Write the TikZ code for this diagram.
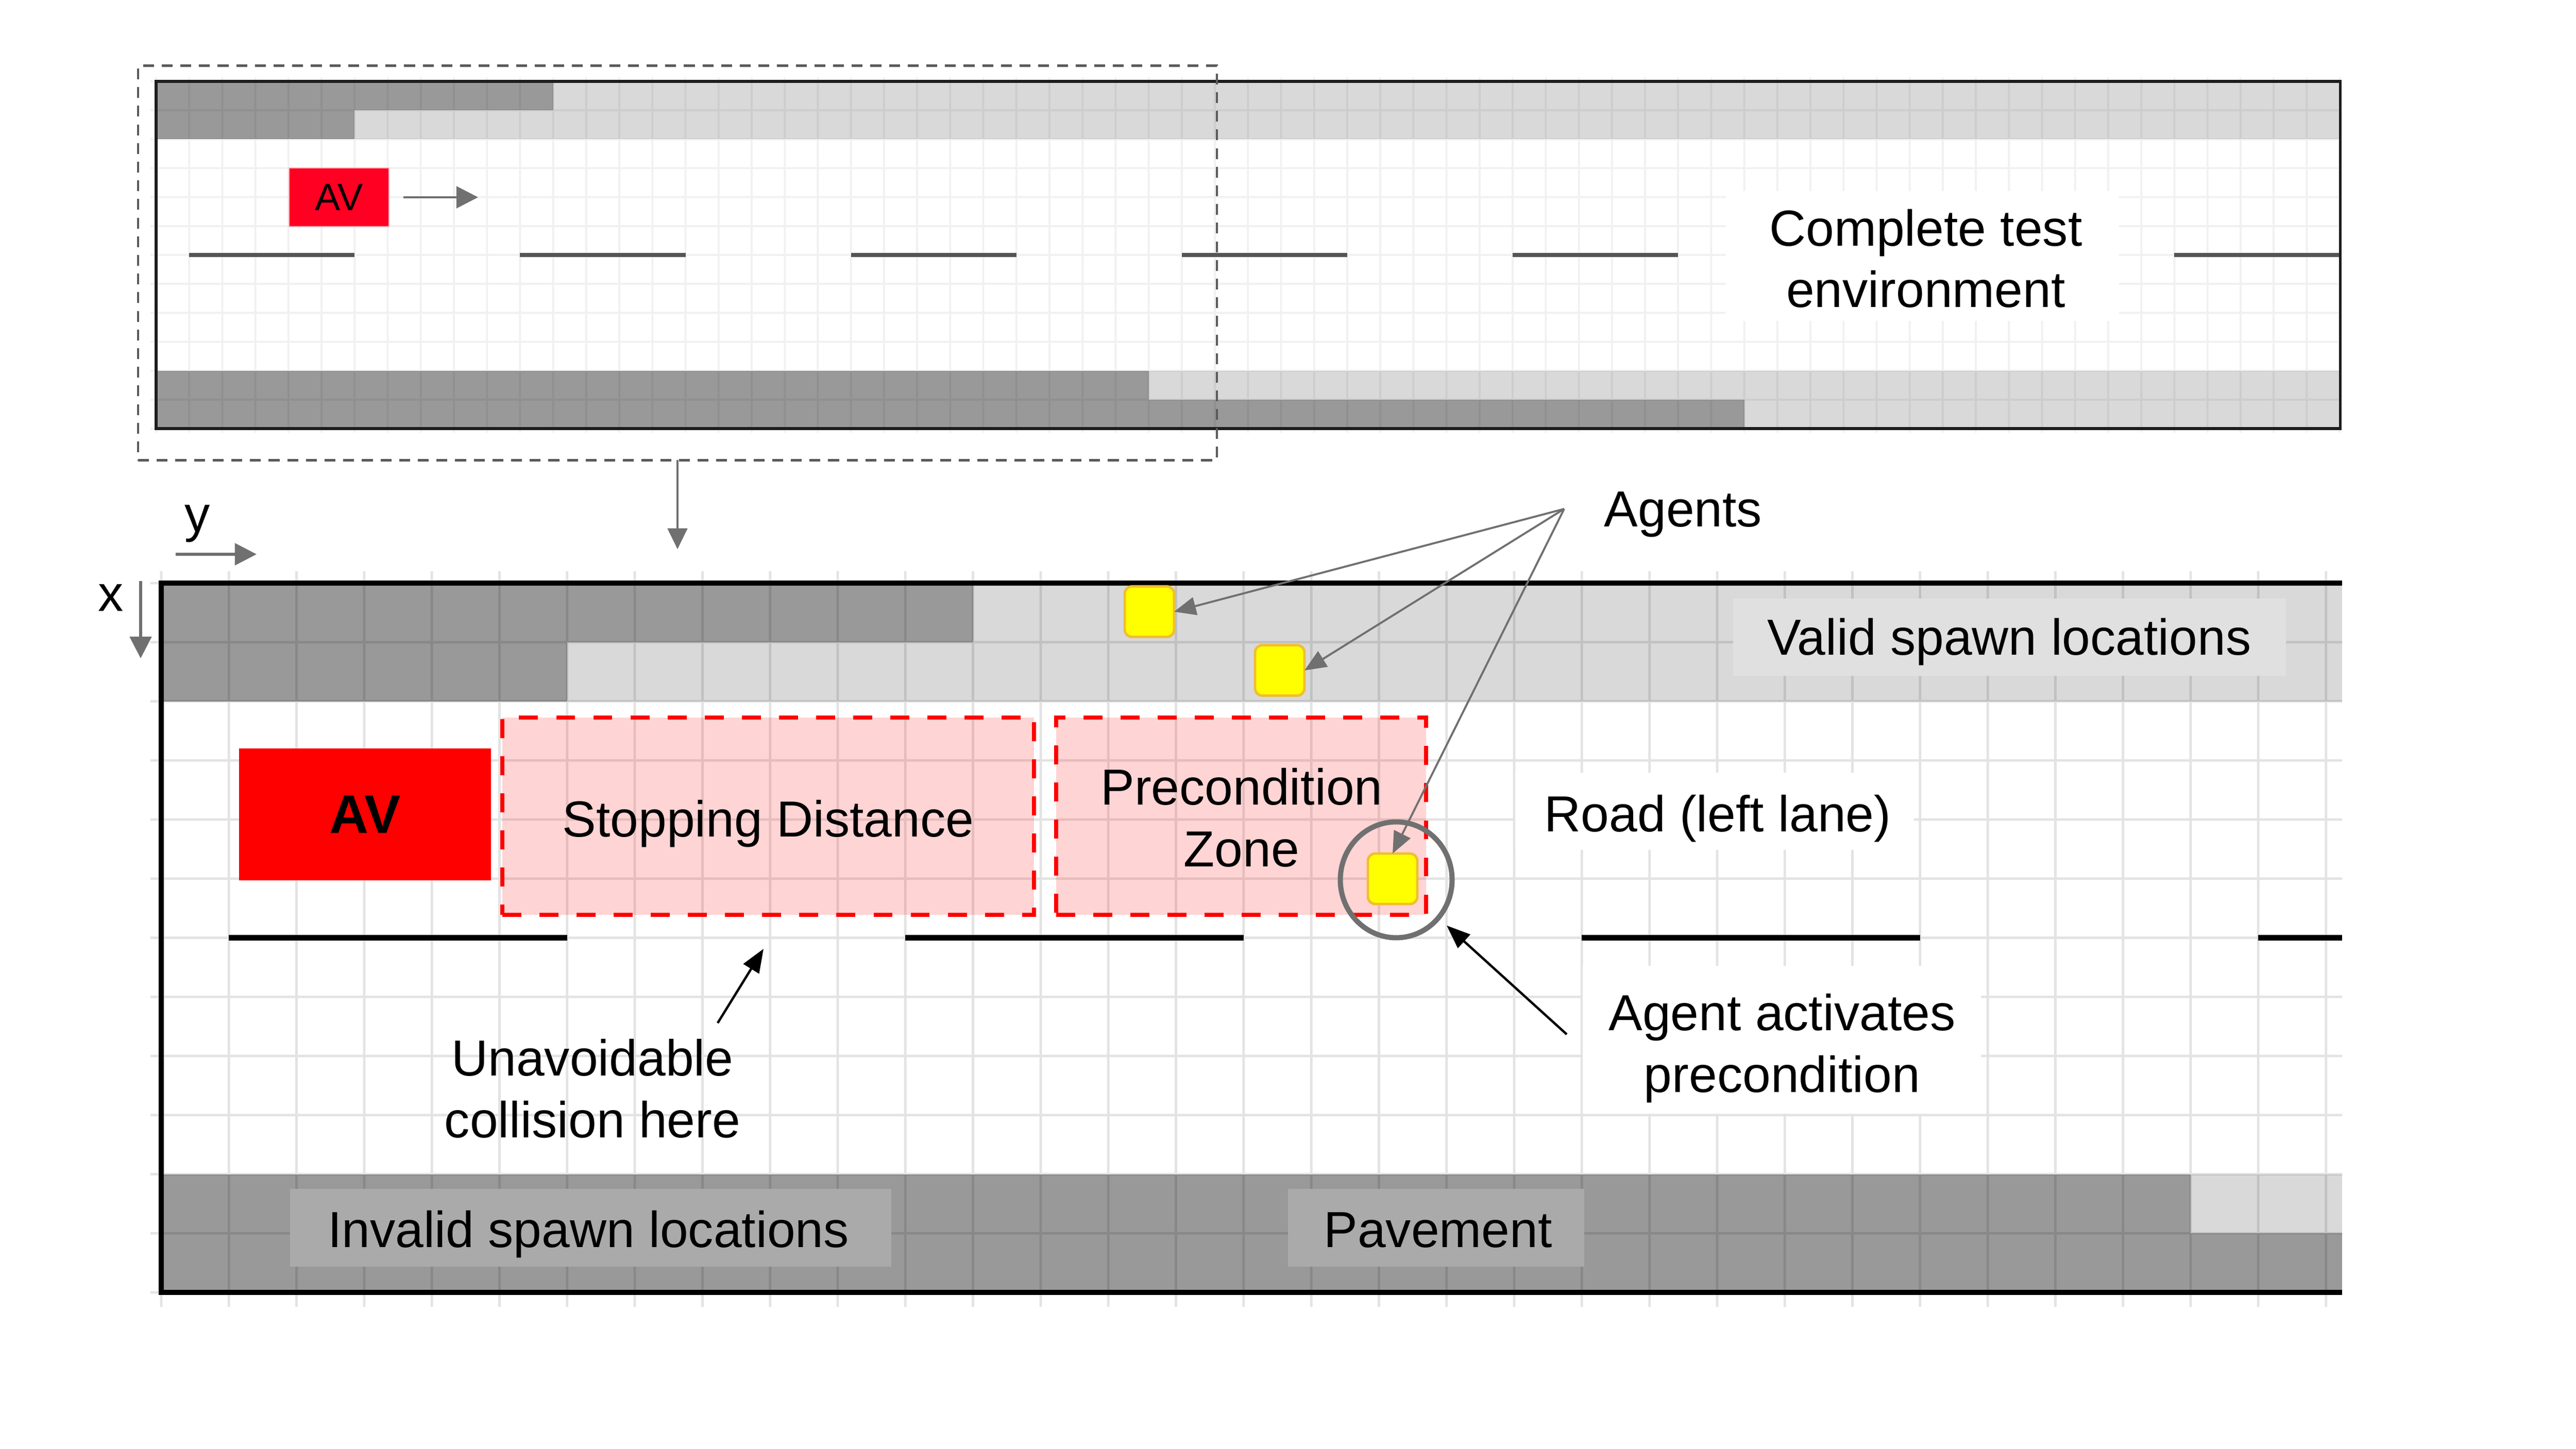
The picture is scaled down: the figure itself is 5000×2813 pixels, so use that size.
\documentclass[tikz,border=0pt]{standalone}
\usepackage{fontspec}
\setmainfont{Liberation Sans}
\usetikzlibrary{arrows.meta,shapes.geometric}
\definecolor{darkcell}{HTML}{999999}
\definecolor{lightcell}{HTML}{D9D9D9}
\definecolor{validbg}{HTML}{E0E0E0}
\definecolor{invalidbg}{HTML}{AAAAAA}
\definecolor{arrowgray}{HTML}{707070}
\definecolor{agentfill}{HTML}{FFFF00}
\definecolor{agentedge}{HTML}{F0BE32}
\definecolor{avred}{HTML}{FF0000}
\definecolor{avsmallred}{HTML}{FF0022}
\definecolor{avsmalledge}{HTML}{F8B4BE}
\definecolor{lanegray}{HTML}{555555}
\definecolor{framegray}{HTML}{1E1E1E}
\definecolor{zoomgray}{HTML}{5A5A5A}
\begin{document}
\begin{tikzpicture}[x=0.1mm,y=-0.1mm,
  every node/.style={font=\fontsize{28}{34}\selectfont, inner sep=0pt, outer sep=0pt},
  txt/.style={align=center, anchor=base},
  gridline/.style={draw=black, line width=1.35pt},
  topgridline/.style={draw=black, line width=1.1pt},
  lanemain/.style={draw=black, line width=2.85pt},
  lanetop/.style={draw=lanegray, line width=2pt},
  mainframe/.style={draw=black, line width=2.85pt, line join=miter},
  topframe/.style={draw=framegray, line width=1.45pt},
  zonebox/.style={rectangle, draw=avred, fill=avred, fill opacity=0.17, line width=2.4pt, dash pattern=on 10.5pt off 10pt},
  avbox/.style={rectangle, fill=avred, font=\fontsize{30}{36}\selectfont\bfseries},
  avsmallbox/.style={rectangle, fill=avsmallred, draw=avsmalledge, line width=0.8pt, font=\fontsize{21}{25}\selectfont},
  agent/.style={rectangle, rounded corners=4pt, fill=agentfill, draw=agentedge, line width=1.4pt, minimum width=9.6mm, minimum height=9.8mm},
  bgwhite/.style={rectangle, fill=white},
  bgvalid/.style={rectangle, fill=validbg},
  bginvalid/.style={rectangle, fill=invalidbg},
  zoomframe/.style={rectangle, draw=zoomgray, line width=1.3pt, dash pattern=on 6pt off 4.3pt},
  ringnode/.style={ellipse, draw=arrowgray, line width=2.85pt},
  grayarrow/.style={draw=arrowgray, line width=1.1pt, -{Triangle[length=12pt,width=10pt]}},
  axisarrow/.style={draw=arrowgray, line width=1.5pt, -{Triangle[length=12pt,width=12pt]}},
  zoomarrow/.style={draw=arrowgray, line width=1pt, -{Triangle[length=11.5pt,width=11pt]}},
  blackarrow/.style={draw=black, line width=1.3pt, -{Triangle[length=13pt,width=10pt]}},
]
% canvas
\fill[white] (0,0) rectangle (5000,2813);

% ================= top panel =================
\fill[darkcell] (303,158) rectangle (1073.6,214.17);
\fill[lightcell] (1073.6,158) rectangle (4542,214.17);
\fill[darkcell] (303,214.17) rectangle (688.3,270.34);
\fill[lightcell] (688.3,214.17) rectangle (4542,270.34);
\fill[darkcell] (303,719.7) rectangle (2229.6,775.87);
\fill[lightcell] (2229.6,719.7) rectangle (4542,775.87);
\fill[darkcell] (303,775.87) rectangle (3385.6,832);
\fill[lightcell] (3385.6,775.87) rectangle (4542,832);
\begin{scope}[transparency group, opacity=0.055]
  \foreach \k in {0,...,66} \draw[topgridline] ({303+64.22*\k},150) -- ({303+64.22*\k},840);
  \foreach \j in {0,...,12} \draw[topgridline] (292,{158+56.17*\j}) -- (4542,{158+56.17*\j});
\end{scope}
\foreach \m in {0,...,6} \draw[lanetop] ({303+64.22*(1+10*\m)},495) -- ({min(303+64.22*(6+10*\m),4542)},495);
\draw[topframe] (303,158) rectangle (4542,832);

\node[avsmallbox, minimum width=19.4mm, minimum height=11.4mm] (avsmall) at (658,383) {AV};
\draw[axisarrow, line width=1.4pt] ([xshift=2.8mm]avsmall.east) -- ++(145,0);

\node[bgwhite, minimum width=76.3mm, minimum height=25.2mm] (cbg) at (3731.5,497) {};
\node[txt] (ctxt) at (3738,597) {Complete test\\environment};

\node[zoomframe, minimum width=209.4mm, minimum height=76.6mm] (zoombox) at (1315,510.5) {};
\coordinate (zoomtip) at (1315,1066);
\draw[zoomarrow] (zoombox.south) -- (zoomtip);

% ================= main panel =================
\fill[darkcell] (313,1132) rectangle (1888.6,1246.75);
\fill[lightcell] (1888.6,1132) rectangle (4546,1246.75);
\fill[darkcell] (313,1246.75) rectangle (1100.8,1361.5);
\fill[lightcell] (1100.8,1246.75) rectangle (4546,1361.5);
\fill[darkcell] (313,2279.5) rectangle (4252,2394.25);
\fill[lightcell] (4252,2279.5) rectangle (4546,2394.25);
\fill[darkcell] (313,2394.25) rectangle (4546,2509);
\begin{scope}[transparency group, opacity=0.11]
  \foreach \k in {0,...,32} \draw[gridline] ({313+131.3*\k},1109) -- ({313+131.3*\k},2537);
  \foreach \j in {0,...,12} \draw[gridline] (292,{1132+114.75*\j}) -- (4546,{1132+114.75*\j});
\end{scope}
\foreach \m in {0,...,3} \draw[lanemain] ({313+131.3*(1+10*\m)},1820.5) -- ({min(313+131.3*(6+10*\m),4546)},1820.5);

% zones
\node[zonebox, minimum width=103.2mm, minimum height=38.3mm] (stopbox) at (1491,1584.5) {};
\node[zonebox, minimum width=71.8mm, minimum height=38.3mm] (prebox) at (2409,1584.5) {};
\node[txt] (stoptxt) at (1491,1624) {Stopping Distance};
\node[txt] (pretxt) at (2410,1682) {Precondition\\Zone};

% AV
\node[avbox, minimum width=48.9mm, minimum height=25.6mm] (av) at (708.5,1581) {AV};

% frame
\draw[mainframe] (4546,1132) -- (313,1132) -- (313,2509) -- (4546,2509);

% labels with backgrounds
\node[bgvalid, minimum width=107.3mm, minimum height=15mm] (validbgn) at (3900.5,1237) {};
\node[txt] (validtxt) at (3900,1272) {Valid spawn locations};
\node[bgwhite, minimum width=77.4mm, minimum height=15mm] (roadbg) at (3328,1575) {};
\node[txt] (roadtxt) at (3334,1614) {Road (left lane)};
\node[bgwhite, minimum width=77.3mm, minimum height=28.7mm] (aapbg) at (3458.5,2018.5) {};
\node[txt] (aaptxt) at (3459,2120) {Agent activates\\precondition};
\node[bginvalid, minimum width=116.7mm, minimum height=15.1mm] (invalidbgn) at (1146.5,2383.5) {};
\node[txt] (invalidtxt) at (1142,2421) {Invalid spawn locations};
\node[bginvalid, minimum width=57.5mm, minimum height=15.1mm] (pavebg) at (2787.5,2383.5) {};
\node[txt] (pavetxt) at (2791,2421) {Pavement};
\node[txt] (unavtxt) at (1150,2208) {Unavoidable\\collision here};

% axes
\node[txt] (ytxt) at (383,1033) {y};
\node[txt] (xtxt) at (215,1187) {x};
\coordinate (ytail) at (341,1076);
\coordinate (yhead) at (498,1076);
\coordinate (xtail) at (273,1128);
\coordinate (xhead) at (273,1278);
\draw[axisarrow] (ytail) -- (yhead);
\draw[axisarrow] (xtail) -- (xhead);

% agents
\node[agent] (ag1) at (2231,1187.5) {};
\node[agent] (ag2) at (2484,1301.5) {};
\node[agent] (ag3) at (2703,1706) {};
\node[ringnode, minimum width=21.7mm, minimum height=22.5mm] (ring) at (2710,1708) {};
\node[txt] (agentstxt) at (3267,1023) {Agents};
\coordinate (agsrc) at (3036,988);
\draw[grayarrow] (agsrc) -- (ag1.east);
\draw[grayarrow] (agsrc) -- (ag2.east);
\draw[grayarrow] (agsrc) -- (ag3.north);

% black arrows
\coordinate (aaptail) at (3041,2008);
\draw[blackarrow, shorten >=2.2mm] (aaptail) -- (ring);
\coordinate (unavtail) at (1393,1986);
\coordinate (unavtip) at (1482,1842);
\draw[blackarrow] (unavtail) -- (unavtip);
\end{tikzpicture}
\end{document}
